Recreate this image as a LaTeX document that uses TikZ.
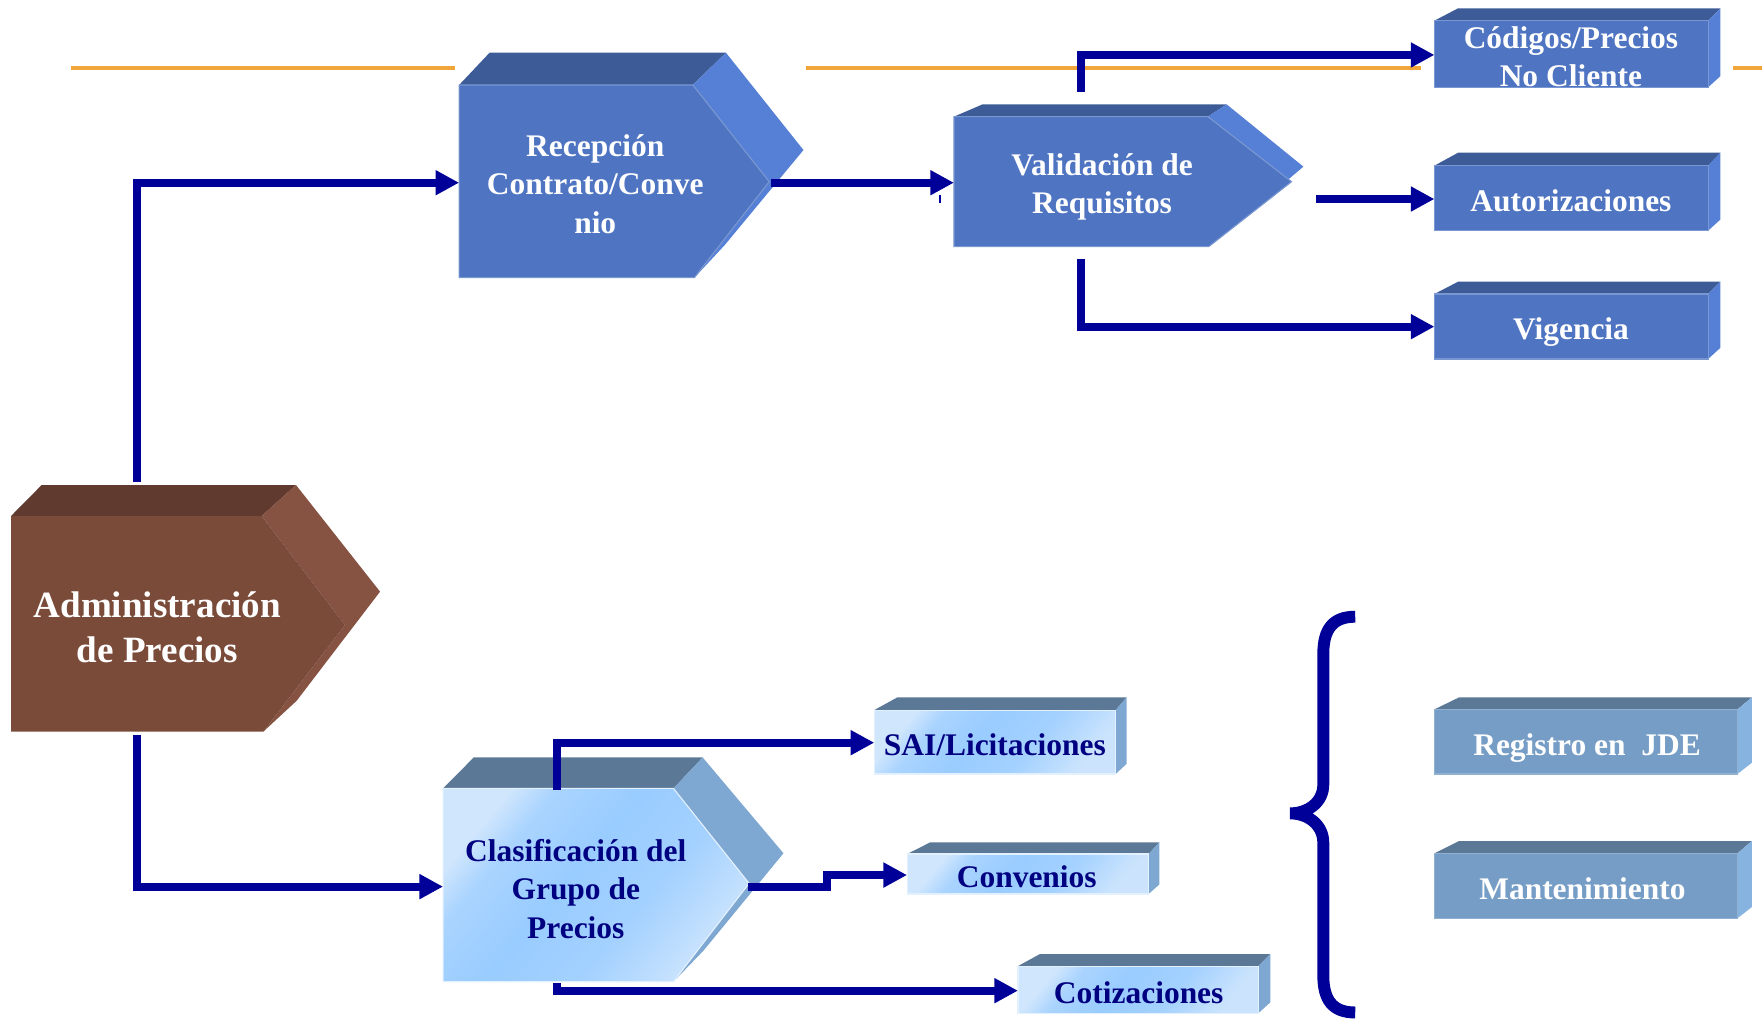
\documentclass[tikz,border=0pt]{standalone}
\usepackage{fontspec}
\setmainfont{Liberation Serif}
\usetikzlibrary{arrows.meta}

% palette
\definecolor{navyline}{HTML}{000099}
\definecolor{navytext}{HTML}{000080}
\definecolor{rulecol}{HTML}{F2A53A}
\definecolor{blueFront}{HTML}{4E74C2}
\definecolor{blueTop}{HTML}{3D5C97}
\definecolor{blueSide}{HTML}{5680D6}
\definecolor{brownFront}{HTML}{7B4B3A}
\definecolor{brownTop}{HTML}{603A2E}
\definecolor{brownSide}{HTML}{865242}
\definecolor{skyLight}{HTML}{D0E6FD}
\definecolor{skyMid}{HTML}{99CCFF}
\definecolor{slateTop}{HTML}{5B7896}
\definecolor{skySide}{HTML}{7EA8D2}
\definecolor{steelFront}{HTML}{769DC5}
\definecolor{steelSide}{HTML}{87B3E0}

% diagonal sheen for the light blue faces (visible range 25bp..75bp)
\pgfdeclareverticalshading{skysheen}{100bp}{%
  color(0bp)=(skyLight!90!skyMid); color(25bp)=(skyLight!90!skyMid);
  color(40bp)=(skyMid!80!skyLight); color(55bp)=(skyMid); color(68bp)=(skyMid!70!skyLight);
  color(75bp)=(skyLight); color(100bp)=(skyLight)}

\newcommand\labelfont{\bfseries\fontsize{28}{34}\selectfont}
\newcommand\titlefont{\bfseries\fontsize{33}{40}\selectfont}

% a solid: front face #2, top face #3, side face #4, colour family #1
\newcommand\solid[4]{%
  \path[#1 top] #3;
  \path[#1 side] #4;
  \path[#1 front] #2;
}

\tikzset{
  blue front/.style={fill=blueFront, draw=blueFront!75!white, line width=1pt},
  blue top/.style={fill=blueTop},
  blue side/.style={fill=blueSide},
  brown front/.style={fill=brownFront},
  brown top/.style={fill=brownTop},
  brown side/.style={fill=brownSide},
  sky front/.style={shading=skysheen, shading angle=50, draw=skyLight!60!white, line width=1pt},
  sky top/.style={fill=slateTop},
  sky side/.style={fill=skySide},
  steel front/.style={fill=steelFront, draw=steelFront!80!white, line width=1pt},
  steel top/.style={fill=slateTop},
  steel side/.style={fill=steelSide},
  % labels are placed by the baseline of their last line
  lbl/.style={align=center, inner sep=0pt, anchor=base, font=\labelfont},
  white lbl/.style={lbl, text=white},
  navy lbl/.style={lbl, text=navytext},
  link/.style={draw=navyline, line width=7pt, -{Triangle[length=21pt,width=21pt]}},
  rule/.style={draw=rulecol, line width=3.5pt},
}

\begin{document}
\begin{tikzpicture}[x=1pt,y=-1pt]
\useasboundingbox (0,0) rectangle (1568,907);

% horizontal orange rule
\draw[rule] (63,60.8) -- (405,60.8);
\draw[rule] (717,60.8) -- (1264.8,60.8);
\draw[rule] (1542,60.8) -- (1568,60.8);

% ---- chevron solids ----
% Administracion de Precios
\solid{brown}
  {(9.8,459.2) -- (232.9,459.2) -- (307,556.2) -- (234.3,651.1) -- (9.8,651.1) -- cycle}
  {(9.8,459.2) -- (37.1,431.6) -- (263.4,431.6) -- (232.9,459.2) -- cycle}
  {(232.9,459.2) -- (263.4,431.6) -- (338.2,526.5) -- (264,623.6) -- (234.3,651.1) -- (307,556.2) -- cycle}
\node[white lbl, font=\titlefont] (admin) at (140,589.5) {Administración\\de Precios};

% Recepcion Contrato/Convenio
\solid{blue}
  {(408.6,75.6) -- (616.5,75.6) -- (684.5,161.7) -- (618,247) -- (408.6,247) -- cycle}
  {(408.6,75.6) -- (435.7,46.9) -- (646,46.9) -- (616.5,75.6) -- cycle}
  {(616.5,75.6) -- (646,46.9) -- (715,133.5) -- (645,218) -- (618,247) -- (684.5,161.7) -- cycle}
\node[white lbl] (recep) at (529.7,207.5) {Recepción\\Contrato/Conve\\nio};

% Validacion de Requisitos
\solid{blue}
  {(848.9,103.8) -- (1074.9,103.8) -- (1149.3,161.7) -- (1075.6,219.5) -- (848.9,219.5) -- cycle}
  {(848.9,103.8) -- (874.3,92.9) -- (1091.6,92.9) -- (1074.9,103.8) -- cycle}
  {(1074.9,103.8) -- (1091.6,92.9) -- (1159.9,148.3) -- (1075.6,219.5) -- (1149.3,161.7) -- cycle}
\node[white lbl] (valid) at (980.7,190.3) {Validación de\\Requisitos};

% Clasificacion del Grupo de Precios
\solid{sky}
  {(394.3,701.6) -- (599.3,701.6) -- (666.6,786.1) -- (599.3,873.6) -- (394.3,873.6) -- cycle}
  {(394.3,701.6) -- (421.6,674) -- (625.3,674) -- (599.3,701.6) -- cycle}
  {(599.3,701.6) -- (625.3,674) -- (697.2,759.3) -- (626,846) -- (599.3,873.6) -- (666.6,786.1) -- cycle}
\node[navy lbl] (clasif) at (512.4,834.8) {Clasificación del\\Grupo de\\Precios};

% ---- boxes ----
% Codigos/Precios No Cliente
\solid{blue}
  {(1276.5,18.4) rectangle (1520,77.7)}
  {(1276.5,18.4) -- (1297.5,7.4) -- (1531,7.4) -- (1520,18.4) -- cycle}
  {(1520,18.4) -- (1531,7.4) -- (1531,67.7) -- (1520,77.7) -- cycle}
\node[white lbl] (codigos) at (1398,77.3) {Códigos/Precios\\No Cliente};

% Autorizaciones
\solid{blue}
  {(1276.5,147.4) rectangle (1520,205.3)}
  {(1276.5,147.4) -- (1297.5,135.9) -- (1531,135.9) -- (1520,147.4) -- cycle}
  {(1520,147.4) -- (1531,135.9) -- (1531,195.3) -- (1520,205.3) -- cycle}
\node[white lbl] (autoriz) at (1398,188.5) {Autorizaciones};

% Vigencia
\solid{blue}
  {(1276.5,261.6) rectangle (1520,319.5)}
  {(1276.5,261.6) -- (1297.5,250.7) -- (1531,250.7) -- (1520,261.6) -- cycle}
  {(1520,261.6) -- (1531,250.7) -- (1531,309.5) -- (1520,319.5) -- cycle}
\node[white lbl] (vigencia) at (1398,302) {Vigencia};

% SAI/Licitaciones
\solid{sky}
  {(778,631.9) rectangle (992.8,688.8)}
  {(778,631.9) -- (798.5,620.6) -- (1002.5,620.6) -- (992.8,631.9) -- cycle}
  {(992.8,631.9) -- (1002.5,620.6) -- (1002.5,679.8) -- (992.8,688.8) -- cycle}
\node[navy lbl] (sai) at (885.3,672.5) {SAI/Licitaciones};

% Convenios
\solid{sky}
  {(807.2,760) rectangle (1022,795.6)}
  {(807.2,760) -- (827.8,749.6) -- (1031.8,749.6) -- (1022,760) -- cycle}
  {(1022,760) -- (1031.8,749.6) -- (1031.8,787) -- (1022,795.6) -- cycle}
\node[navy lbl] (conv) at (913.7,789.6) {Convenios};

% Cotizaciones
\solid{sky}
  {(905.9,859.7) rectangle (1119.7,901.8)}
  {(905.9,859.7) -- (925.4,849) -- (1130.4,849) -- (1119.7,859.7) -- cycle}
  {(1119.7,859.7) -- (1130.4,849) -- (1130.4,892) -- (1119.7,901.8) -- cycle}
\node[navy lbl] (cotiz) at (1013.3,893.4) {Cotizaciones};

% Registro en JDE
\solid{steel}
  {(1276.4,631.3) rectangle (1546.1,688.8)}
  {(1276.4,631.3) -- (1298.4,620.6) -- (1558.9,620.6) -- (1546.1,631.3) -- cycle}
  {(1546.1,631.3) -- (1558.9,620.6) -- (1558.9,678.8) -- (1546.1,688.8) -- cycle}
\node[white lbl] (registro) at (1412.3,672.4) {Registro en\ \ JDE};

% Mantenimiento
\solid{steel}
  {(1276.4,759.4) rectangle (1546.1,817.2)}
  {(1276.4,759.4) -- (1298.4,748.4) -- (1558.9,748.4) -- (1546.1,759.4) -- cycle}
  {(1546.1,759.4) -- (1558.9,748.4) -- (1558.9,807.2) -- (1546.1,817.2) -- cycle}
\node[white lbl] (mant) at (1408.2,800.8) {Mantenimiento};

% ---- connection points ----
\coordinate (admin-n)   at (121.9,428.6);
\coordinate (admin-s)   at (121.9,654);
\coordinate (recep-w)   at (408.6,162.6);
\coordinate (recep-e)   at (686,162.6);
\coordinate (valid-w)   at (848.9,162.6);
\coordinate (valid-n)   at (961.9,81.6);
\coordinate (valid-e)   at (1171.3,177.1);
\coordinate (valid-s)   at (961.9,230.8);
\coordinate (codigos-w) at (1276.5,48.9);
\coordinate (autoriz-w) at (1276.5,177.1);
\coordinate (vigencia-w) at (1276.5,290.7);
\coordinate (clasif-w)  at (394.3,789);
\coordinate (clasif-n)  at (495.3,703);
\coordinate (clasif-e)  at (665.5,789);
\coordinate (clasif-s)  at (495.3,875);
\coordinate (conv-bend) at (736,789);
\coordinate (sai-w)     at (778,660.9);
\coordinate (conv-w)    at (807.2,778.7);
\coordinate (cotiz-w)   at (905.9,881.6);

% ---- connectors ----
\draw[link] (admin-n) |- (recep-w);
\draw[link] (recep-e) -- (valid-w);
\draw[link] (valid-n) |- (codigos-w);
\draw[link] (valid-e) -- (autoriz-w);
\draw[link] (valid-s) |- (vigencia-w);
\draw[link] (admin-s) |- (clasif-w);
\draw[link] (clasif-n) |- (sai-w);
\draw[link] (clasif-e) -- (conv-bend) |- (conv-w);
\draw[link] (clasif-s) |- (cotiz-w);

% small tick below the arrow into Validacion
\fill[navyline] (835.6,173.5) rectangle (837.4,180.6);

% curly brace grouping the lower branch
\draw[navyline, line width=10.6pt]
  (1206,548.8) .. controls (1186,548.8) and (1177.6,560) .. (1177.6,582)
  -- (1177.6,698)
  .. controls (1177.6,714) and (1164,723.8) .. (1148,723.8)
  .. controls (1164,723.8) and (1177.6,734) .. (1177.6,750)
  -- (1177.6,868)
  .. controls (1177.6,890) and (1186,901) .. (1206,901);
\end{tikzpicture}
\end{document}
